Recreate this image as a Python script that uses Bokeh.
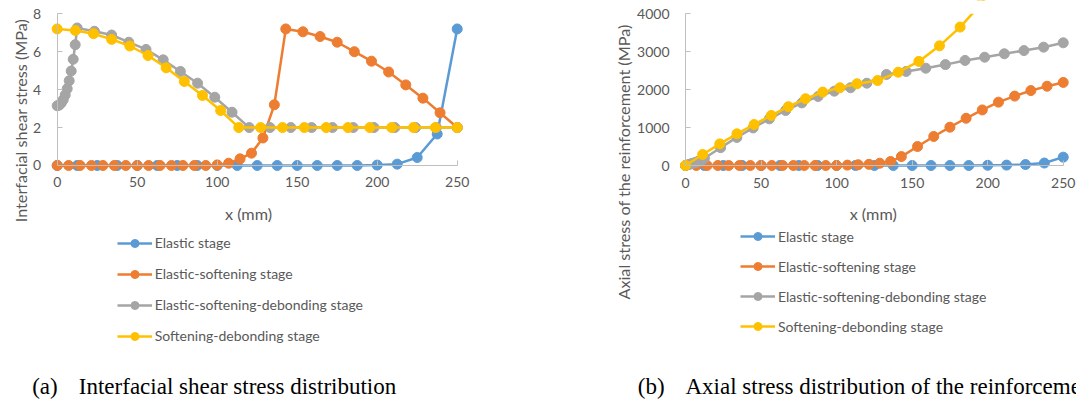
import math
from bokeh.plotting import figure
from bokeh.models import Range1d, Legend, LegendItem, Label, FixedTicker
from bokeh.layouts import row
from bokeh.embed import file_html
from bokeh.resources import INLINE

# ---------------- data ----------------
series_names = ["Elastic stage", "Elastic-softening stage",
                "Elastic-softening-debonding stage", "Softening-debonding stage"]
colors = ["#5B9BD5", "#ED7D31", "#A5A5A5", "#FFC000"]

# x positions (mm)
x_elastic = [0, 12.5, 25, 37.5, 50, 62.5, 75, 87.5, 100, 112.5, 125, 137.5, 150,
             162.5, 175, 187.5, 200, 212.5, 225, 237.5, 250]
x_es = [0, 7.14, 14.29, 21.43, 28.57, 35.71, 42.86, 50, 57.14, 64.29, 71.43, 78.57,
        85.71, 92.86, 100, 107.14, 114.29, 121.43, 128.57, 135.71, 142.86,
        153.57, 164.29, 175, 185.71, 196.43, 207.14, 217.86, 228.57, 239.29, 250]
x_esd = [0, 1.25, 2.5, 3.75, 5, 6.25, 7.5, 8.75, 10, 11.25, 12.5,
         23.25, 34, 44.75, 55.5, 66.25, 77, 87.75, 98.5, 109.25, 120,
         133, 146, 159, 172, 185, 198, 211, 224, 237, 250]
x_sd = [0, 11.35, 22.7, 34.05, 45.4, 56.75, 68.1, 79.45, 90.8, 102.15, 113.5,
        127.15, 140.8, 154.45, 168.1, 181.75, 195.4, 209.05, 222.7, 236.35, 250]

# (a) interfacial shear stress (MPa)
tau_elastic = [0, 0, 0, 0, 0, 0, 0, 0, 0, 0, 0, 0, 0, 0, 0, 0,
               0.02, 0.07, 0.42, 1.66, 7.2]
tau_es = [0, 0, 0, 0, 0, 0, 0, 0, 0, 0, 0, 0, 0, 0, 0.03, 0.12, 0.35, 0.65, 1.45, 3.2, 7.2,
          7.05, 6.8, 6.5, 6.0, 5.5, 4.93, 4.25, 3.55, 2.78, 2.0]
tau_esd = [3.15, 3.18, 3.29, 3.46, 3.72, 4.05, 4.47, 4.98, 5.6, 6.37, 7.25,
           7.08, 6.88, 6.5, 6.12, 5.57, 4.96, 4.34, 3.6, 2.81, 2.0,
           2.0, 2.0, 2.0, 2.0, 2.0, 2.0, 2.0, 2.0, 2.0, 2.0]
tau_sd = [7.2, 7.12, 6.95, 6.65, 6.3, 5.8, 5.15, 4.43, 3.69, 2.9, 2.0,
          2.0, 2.0, 2.0, 2.0, 2.0, 2.0, 2.0, 2.0, 2.0, 2.0]

# (b) axial stress of the reinforcement (MPa)
sig_elastic = [0, 0, 0, 0, 0, 0, 0, 0, 0, 0, 0, 0, 0, 0, 0, 0,
               5, 10, 25, 65, 220]
sig_es = [0, 0, 0, 0, 0, 0, 0, 0, 0, 0, 0, 0, 0, 0, 0, 10, 20, 30, 60, 105, 235,
          500, 765, 1010, 1245, 1465, 1670, 1830, 1975, 2090, 2190]
sig_esd = [0, 15, 30, 45, 60, 75, 95, 115, 135, 160, 190,
           470, 740, 990, 1230, 1450, 1650, 1820, 1960, 2050, 2170,
           2400, 2480, 2565, 2660, 2770, 2855, 2945, 3030, 3120, 3235]
sig_sd = [0, 290, 570, 835, 1080, 1320, 1550, 1760, 1935, 2050, 2155,
          2240, 2460, 2745, 3155, 3650, 4250, 4950, 5750, 6650, 7700]

x_ticks = [0, 50, 100, 150, 200, 250]
y_ticks_a = [0, 2, 4, 6, 8]
y_ticks_b = [0, 1000, 2000, 3000, 4000]

FONT = "Lato"
TXT = "#595959"
AX = "#BFBFBF"
H = 399


def build(xs_list, ys_list, W, x_range, y_range, y_ticks, y_top,
          ytitle, ytitle_pos, xtitle_pos, legend_pos, legend_spacing,
          cap_tag, cap_text, cap_tag_x, cap_text_x, clip_top=False):
    p = figure(frame_width=W, frame_height=H, min_border=0,
               x_range=Range1d(*x_range), y_range=Range1d(*y_range),
               output_backend="svg", toolbar_location=None)
    p.outline_line_color = None
    p.xgrid.visible = False
    p.ygrid.visible = False
    for ax in (p.xaxis[0], p.yaxis[0]):
        ax.axis_line_color = AX
        ax.axis_line_width = 1
        ax.major_tick_line_color = AX
        ax.minor_tick_line_color = None
        ax.major_tick_in = 5
        ax.major_tick_out = 0
        ax.major_label_text_color = TXT
        ax.major_label_text_font = FONT
        ax.major_label_text_font_size = "14px"
    p.xaxis.ticker = FixedTicker(ticks=x_ticks)
    p.yaxis.ticker = FixedTicker(ticks=y_ticks)
    p.xaxis.fixed_location = 0
    p.yaxis.fixed_location = 0
    p.xaxis.bounds = (0, x_ticks[-1])
    p.yaxis.bounds = (0, y_top)
    p.xaxis.major_label_standoff = 12
    p.yaxis.major_label_standoff = 16

    items = []
    for xs, ys, c, name in zip(xs_list, ys_list, colors, series_names):
        l = p.line(xs, ys, line_color=c, line_width=2.5)
        s = p.scatter(xs, ys, marker="circle", size=10, fill_color=c, line_color=c)
        items.append(LegendItem(label=name, renderers=[l, s]))

    if clip_top:
        # plot area ends at the top of the value axis: hide what lies above it
        p.quad(left=[x_range[0]], right=[x_range[1]], bottom=[y_top], top=[y_range[1]],
               fill_color="white", line_color=None)

    leg = Legend(items=items, location=legend_pos, orientation="vertical",
                 glyph_width=35, glyph_height=20, label_height=20,
                 spacing=legend_spacing, label_standoff=3, padding=0, margin=0,
                 border_line_color=None, background_fill_alpha=0,
                 label_text_font=FONT, label_text_font_size="14px",
                 label_text_color=TXT)
    p.add_layout(leg, "center")

    p.add_layout(Label(x=ytitle_pos[0], y=ytitle_pos[1], x_units="screen", y_units="screen",
                       text=ytitle, angle=math.pi / 2, text_align="center",
                       text_baseline="middle", text_font=FONT, text_font_size="16.2px",
                       text_color=TXT))
    p.add_layout(Label(x=xtitle_pos[0], y=xtitle_pos[1], x_units="screen", y_units="screen",
                       text="x (mm)", text_align="center", text_baseline="middle",
                       text_font=FONT, text_font_size="16.2px", text_color=TXT))
    p.add_layout(Label(x=cap_tag_x, y=13, x_units="screen", y_units="screen",
                       text=cap_tag, text_align="left", text_baseline="alphabetic",
                       text_font="Liberation Serif", text_font_size="23px",
                       text_color="#000000"))
    p.add_layout(Label(x=cap_text_x, y=13, x_units="screen", y_units="screen",
                       text=cap_text, text_align="left", text_baseline="alphabetic",
                       text_font="Liberation Serif", text_font_size="23px",
                       text_color="#000000"))
    return p


# left panel: canvas page x 0..565 ; right panel: 565..1076 ; height 399
p1 = build([x_elastic, x_es, x_esd, x_sd],
           [tau_elastic, tau_es, tau_esd, tau_sd],
           565, (-35.44, 317.69), (-12.34, 8.70), y_ticks_a, 8,
           "Interfacial shear stress (MPa)", (20, 279), (248, 186.3),
           (116.7, 53.3), 11,
           "(a)", "Interfacial shear stress distribution", 31.7, 78.3)

p2 = build([x_elastic, x_es, x_esd, x_sd],
           [sig_elastic, sig_es, sig_esd, sig_sd],
           511, (-79.42, 258.77), (-6169, 4350), y_ticks_b, 4000,
           "Axial stress of the reinforcement (MPa)", (57.5, 237.5), (307.7, 186.3),
           (175, 63), 10,
           "(b)", "Axial stress distribution of the reinforcement", 72.3, 120,
           clip_top=True)

layout = row(p1, p2)
open("out.html", "w").write(file_html(layout, INLINE))
